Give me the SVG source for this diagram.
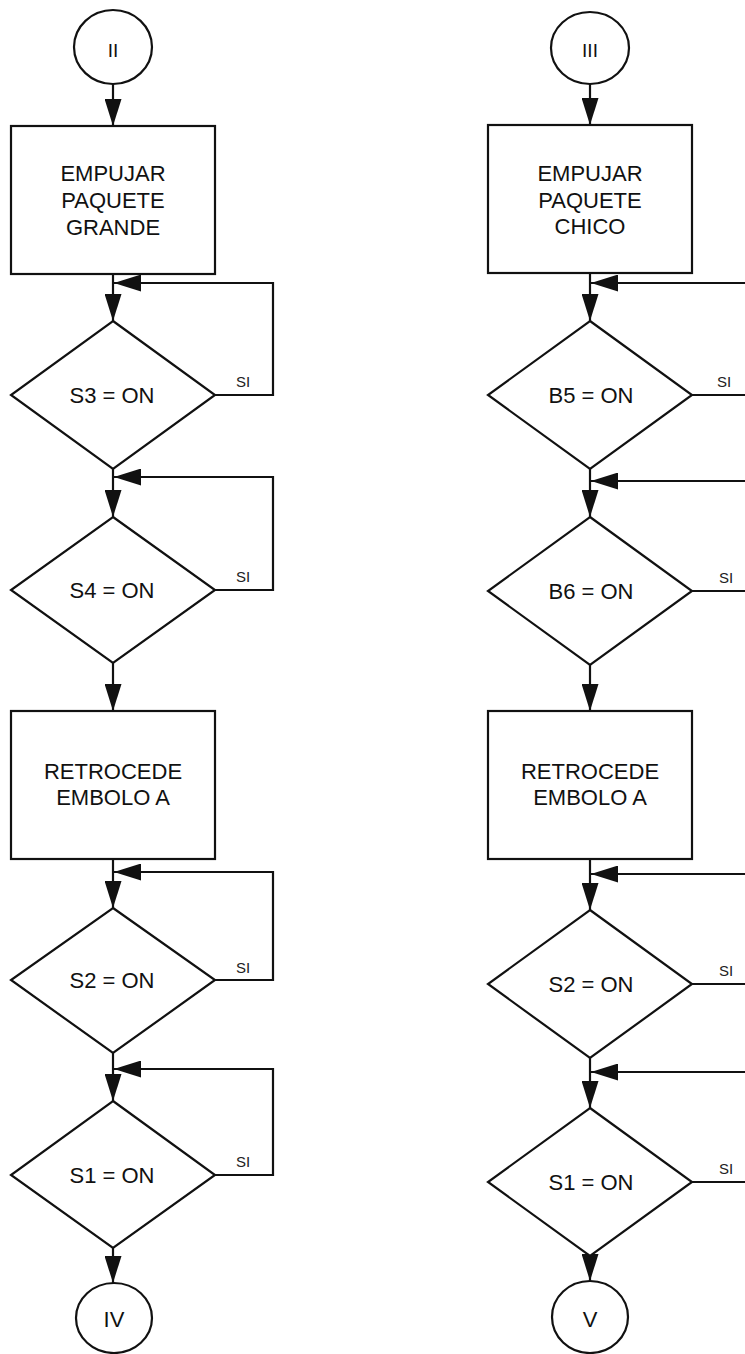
<svg xmlns="http://www.w3.org/2000/svg" width="745" height="1354" viewBox="0 0 745 1354">
  <defs>
    <marker id="arrow" markerUnits="userSpaceOnUse" markerWidth="27" markerHeight="17" refX="27" refY="8.5" orient="auto">
      <path d="M0,0 L27,8.5 L0,17 z" fill="#111"/>
    </marker>
    <style>
      .shape { fill: #fff; stroke: #111; stroke-width: 2.2; }
      .edge { fill: none; stroke: #111; stroke-width: 2.2; marker-end: url(#arrow); }
      .lbl { font-family: "Liberation Sans", Arial, sans-serif; font-size: 22px; fill: #111; text-anchor: middle; }
      .cond { font-family: "Liberation Sans", Arial, sans-serif; font-size: 22px; fill: #111; text-anchor: middle; }
      .yes { font-family: "Liberation Sans", Arial, sans-serif; font-size: 15px; fill: #222; text-anchor: middle; }
      .roman { font-family: "Liberation Sans", Arial, sans-serif; font-size: 19px; fill: #111; text-anchor: middle; }
      .roman2 { font-family: "Liberation Sans", Arial, sans-serif; font-size: 22px; fill: #111; text-anchor: middle; }
    </style>
  </defs>
  <rect width="745" height="1354" fill="#fff"/>

  <!-- connectors -->
  <g id="connectors">
    <!-- left column -->
    <path class="edge" d="M113,84 V126"/>
    <path class="edge" d="M113,274 V321"/>
    <path class="edge" d="M215,395 H273 V283 H114"/>
    <path class="edge" d="M113,469 V517"/>
    <path class="edge" d="M215,590 H273 V477 H114"/>
    <path class="edge" d="M113,663 V711"/>
    <path class="edge" d="M113,859 V908"/>
    <path class="edge" d="M215,980 H273 V872 H114"/>
    <path class="edge" d="M113,1053 V1101"/>
    <path class="edge" d="M215,1175 H273 V1069 H114"/>
    <path class="edge" d="M113,1248 V1283"/>
    <!-- right column (loop returns run past the right edge) -->
    <path class="edge" d="M590,84 V125"/>
    <path class="edge" d="M590,273 V321"/>
    <path class="edge" d="M692,395 H752 V283 H591"/>
    <path class="edge" d="M590,469 V517"/>
    <path class="edge" d="M692,591 H752 V481 H591"/>
    <path class="edge" d="M590,665 V711"/>
    <path class="edge" d="M590,859 V910"/>
    <path class="edge" d="M692,984 H752 V874 H591"/>
    <path class="edge" d="M590,1058 V1108"/>
    <path class="edge" d="M692,1182 H752 V1072 H591"/>
    <path class="edge" d="M590,1256 V1281"/>
  </g>

  <!-- yes labels on loops -->
  <g id="loop-labels">
    <text class="yes" x="243" y="387">SI</text>
    <text class="yes" x="243" y="582">SI</text>
    <text class="yes" x="243" y="973">SI</text>
    <text class="yes" x="243" y="1167">SI</text>
    <text class="yes" x="724" y="387">SI</text>
    <text class="yes" x="726" y="583">SI</text>
    <text class="yes" x="726" y="976">SI</text>
    <text class="yes" x="726" y="1174">SI</text>
  </g>

  <!-- left column nodes -->
  <g id="conn-II">
    <ellipse class="shape" cx="113" cy="47" rx="39" ry="37"/>
    <text class="roman" x="113" y="57">II</text>
  </g>
  <g id="box-empujar-grande">
    <rect class="shape" x="11" y="126" width="204" height="148"/>
    <text class="lbl" x="113" y="181">EMPUJAR</text>
    <text class="lbl" x="113" y="208">PAQUETE</text>
    <text class="lbl" x="113" y="235">GRANDE</text>
  </g>
  <g id="dec-s3-left">
    <polygon class="shape" points="113,321 215,395 113,469 11,395"/>
    <text class="cond" x="112" y="403">S3 = ON</text>
  </g>
  <g id="dec-s4-left">
    <polygon class="shape" points="113,517 215,590 113,663 11,590"/>
    <text class="cond" x="112" y="598">S4 = ON</text>
  </g>
  <g id="box-retrocede-left">
    <rect class="shape" x="11" y="711" width="204" height="148"/>
    <text class="lbl" x="113" y="779">RETROCEDE</text>
    <text class="lbl" x="113" y="805">EMBOLO A</text>
  </g>
  <g id="dec-s2-left">
    <polygon class="shape" points="113,908 215,980 113,1053 11,980"/>
    <text class="cond" x="112" y="988">S2 = ON</text>
  </g>
  <g id="dec-s1-left">
    <polygon class="shape" points="113,1101 215,1175 113,1248 11,1175"/>
    <text class="cond" x="112" y="1183">S1 = ON</text>
  </g>
  <g id="conn-IV">
    <ellipse class="shape" cx="114" cy="1318" rx="38" ry="35"/>
    <text class="roman2" x="114" y="1327">IV</text>
  </g>

  <!-- right column nodes -->
  <g id="conn-III">
    <ellipse class="shape" cx="590" cy="48" rx="39" ry="36"/>
    <text class="roman" x="590" y="57">III</text>
  </g>
  <g id="box-empujar-chico">
    <rect class="shape" x="488" y="125" width="204" height="148"/>
    <text class="lbl" x="590" y="181">EMPUJAR</text>
    <text class="lbl" x="590" y="208">PAQUETE</text>
    <text class="lbl" x="590" y="234">CHICO</text>
  </g>
  <g id="dec-b5">
    <polygon class="shape" points="590,321 692,395 590,469 488,395"/>
    <text class="cond" x="591" y="403">B5 = ON</text>
  </g>
  <g id="dec-b6">
    <polygon class="shape" points="590,517 692,591 590,665 488,591"/>
    <text class="cond" x="591" y="599">B6 = ON</text>
  </g>
  <g id="box-retrocede-right">
    <rect class="shape" x="488" y="711" width="204" height="148"/>
    <text class="lbl" x="590" y="779">RETROCEDE</text>
    <text class="lbl" x="590" y="805">EMBOLO A</text>
  </g>
  <g id="dec-s2-right">
    <polygon class="shape" points="590,910 692,984 590,1058 488,984"/>
    <text class="cond" x="591" y="992">S2 = ON</text>
  </g>
  <g id="dec-s1-right">
    <polygon class="shape" points="590,1108 692,1182 590,1256 488,1182"/>
    <text class="cond" x="591" y="1190">S1 = ON</text>
  </g>
  <g id="conn-V">
    <ellipse class="shape" cx="590" cy="1317" rx="38" ry="36"/>
    <text class="roman2" x="590" y="1327">V</text>
  </g>
</svg>
